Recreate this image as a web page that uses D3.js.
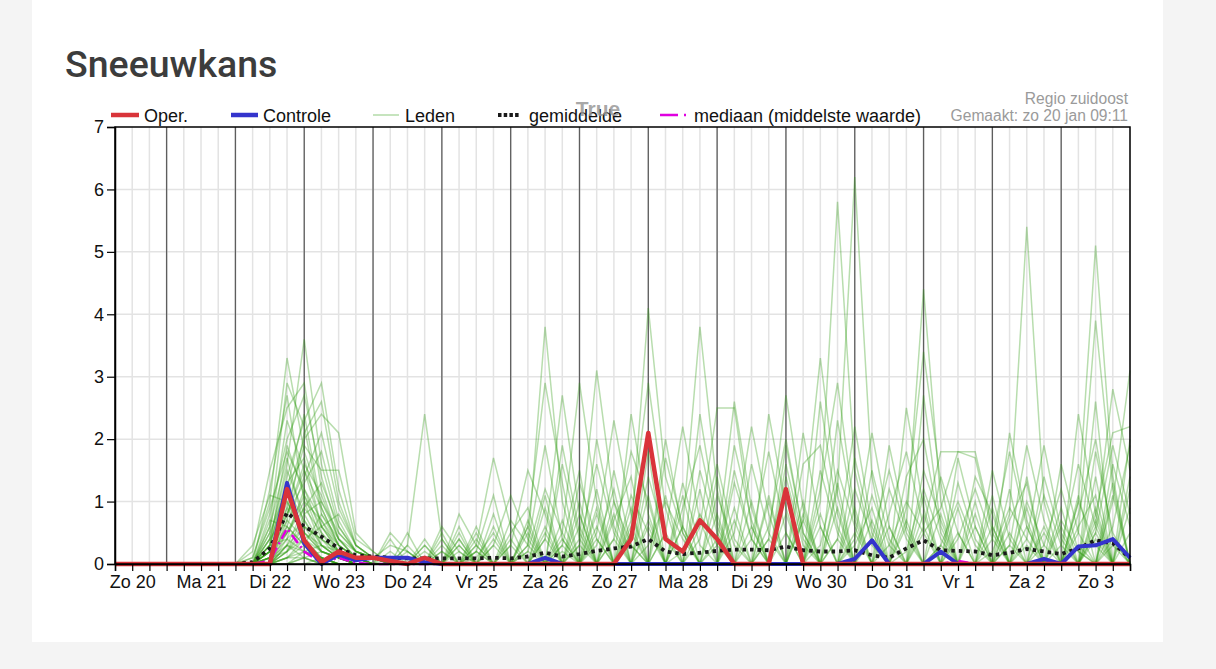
<!DOCTYPE html>
<html>
<head>
<meta charset="utf-8">
<script src="https://cdn.jsdelivr.net/npm/d3@7"></script>
<style>
  html, body { margin: 0; padding: 0; background: #f4f4f4; }
  svg { display: block; }
</style>
</head>
<body>
<div id="chart"></div>
<script>
// time axis: 6-hourly steps from zo 20 jan 06:00 up to ma 4 feb 00:00
const startTime = Date.UTC(2019, 0, 20, 6);
const endTime = Date.UTC(2019, 1, 4, 0);
const stepHours = 6;
const dayLabels = ["Zo 20", "Ma 21", "Di 22", "Wo 23", "Do 24", "Vr 25", "Za 26",
                   "Zo 27", "Ma 28", "Di 29", "Wo 30", "Do 31", "Vr 1", "Za 2", "Zo 3"];
const yTicks = [0, 1, 2, 3, 4, 5, 6, 7];

const oper = [0,0,0,0,0,0,0,0, 0,0,1.2,.38, .03,.2,.1,.1, .05,0,.1,0, 0,0,0,0, 0,0,0,0,
              0,0,.4,2.1, .4,.2,.7,.4, 0,0,0,1.2, 0,0,0,0, 0,0,0,0, 0,0,0,0, 0,0,0,0, 0,0,0,0];
const controle = [0,0,0,0,0,0,0,0, 0,0,1.3,.33, 0,.15,.06,.1, .1,.1,.03,0, 0,0,0,0, 0,.1,0,0,
                  0,0,0,0, 0,0,0,0, 0,0,0,0, 0,0,0,.08, .38,0,0,0, .2,0,0,0, 0,0,.08,0, .28,.3,.4,.1];
const gemiddelde = [0,0,0,0,0,0,0,0, .03,.25,.82,.6, .44,.25,.14,.12, .1,.09,.09,.09, .09,.09,.1,.09, .12,.18,.12,.16,
                    .21,.25,.28,.4, .2,.16,.18,.21, .23,.23,.22,.28, .22,.2,.2,.22, .14,.1,.25,.38, .22,.21,.2,.14, .18,.24,.2,.16, .25,.38,.33,.1];
const mediaan = [0,0,0,0,0,0,0,0, 0,.05,.57,.2, .02,.1,.02,0, 0,0,0,0, 0,0,0,0, 0,0,0,0,
                 0,0,0,0, 0,0,0,0, 0,0,0,0, 0,0,0,0, 0,0,0,0, 0,.05,0,0, 0,0,0,0, 0,0,0,0];

// 50 ensemble members ("Leden")
const leden = [
  [0,0,0,0,0,0,0,0, .1,1,3.3,1.8, 1,.4,.2,.1, 0,0,.3,0, 0,0,0,0, .2,1.2,.5,0, 0,0,0,0, 0,.2,.8,.3, 0,0,0,0, 0,.3,1.5,.6, 0,0,0,0, 0,0,0,0, .3,1.9,.7,0, 0,0,0,0],
  [0,0,0,0,0,0,0,0, 0,.6,2.9,2.2, .8,.3,.1,.1, 0,0,0,0, 0,.1,.5,0, 0,0,0,.4, 3.1,1,.3,0, 0,0,0,0, 0,0,0,0, 0,.8,0,0, 0,0,.2,1.2, .4,0,0,0, 0,0,0,0, .5,3.9,1.2,0],
  [0,0,0,0,0,0,0,0, 0,.4,1.6,3.6, 1.6,.6,.2,.1, .3,.2,0,0, 0,0,0,0, .3,3.8,1,0, 0,0,0,.6, 0,0,0,0, 0,0,.4,2.7, .9,0,0,0, 0,0,0,0, 0,0,.6,0, 0,0,0,0, 0,.6,2.8,1.5],
  [0,0,0,0,0,0,0,0, .2,1.5,2.5,2.9, 1.2,.4,.1,0, 0,0,0,0, .8,.3,0,0, 0,0,.3,1.5, 0,0,.5,4.1, 1.4,.5,0,0, 0,0,0,0, 0,0,.4,2.2, .6,0,0,0, 0,0,0,0, 0,0,.3,1.2, .2,0,0,0],
  [0,0,0,0,0,0,0,0, 0,.3,1.4,2.3, 2.9,1.2,.3,.1, 0,0,0,.5, 0,0,0,0, 0,.4,2.7,.8, 0,0,0,0, 0,0,0,.3, 2.6,.9,0,0, 0,0,0,0, 0,0,.6,4.4, 1,0,0,0, 0,0,0,0, 0,0,1,3.1],
  [0,0,0,0,0,0,0,0, 0,.2,1.1,2, 2.4,2.1,.5,.2, 0,0,0,0, 0,.3,1.7,.6, 0,0,0,0, .5,2.3,.8,0, 0,0,0,0, 0,0,0,0, .7,3.3,1.1,0, 0,0,0,0, 0,0,0,.2, .9,.4,0,0, 0,0,0,0],
  [0,0,0,0,0,0,0,0, 0,.5,2.3,1.5, .6,.2,.1,.1, 0,.3,2.4,.4, 0,0,0,0, 0,.5,0,0, 0,0,0,0, 0,.6,3.8,1.2, 0,0,0,0, 0,0,0,0, 0,.3,1,.5, 0,0,0,0, 0,0,0,0, .8,2,.4,0],
  [0,0,0,0,0,0,0,0, 0,.8,2,2.7, 1.4,.5,.2,.1, 0,0,0,0, 0,0,.3,1.1, .4,0,0,0, 0,0,.7,2.9, .9,0,0,0, 0,0,0,0, 0,1,5.8,1.5, .3,0,0,0, 0,0,0,0, 0,.6,0,0, 0,0,0,0],
  [0,0,0,0,0,0,0,0, .1,.9,1.8,1.2, .5,.2,.1,0, 0,0,0,0, 0,.5,0,0, .6,2.9,1.3,0, 0,0,0,0, 0,0,0,0, 0,0,.6,2, .5,0,0,0, 0,0,0,.5, .9,1.8,1.8,.6, 0,0,0,0, 0,.7,0,0],
  [0,0,0,0,0,0,0,0, 0,.2,.9,1.9, 1.5,1.5,.4,.2, 0,0,0,0, .4,0,0,0, 0,0,.5,2.9, 1,0,0,0, 0,0,.6,2.5, 2.5,.6,0,0, 0,0,1.2,6.2, 1.4,0,0,0, 0,0,0,0, 0,.4,1.9,.5, 0,0,0,0],
  [0,0,0,0,0,0,0,0, 0,1.2,2.7,1, .3,.1,0,0, .4,0,0,0, 0,0,0,0, .6,0,0,0, .3,1.2,0,0, .5,2.2,.7,0, 0,0,0,0, 0,0,0,.4, 2.1,.6,0,0, 0,0,0,0, .8,5.4,1,0, 0,0,0,0],
  [0,0,0,0,0,0,0,0, 0,.1,.6,1.4, 2.1,.9,.3,.1, 0,0,0,0, 0,.2,1.1,0, 0,0,0,0, .9,0,0,0, 0,0,0,0, .5,2.2,.8,0, 0,0,0,0, 0,0,.9,3.4, 1.3,0,0,0, 0,0,0,0, 1,5.1,1.4,0],
  [0,0,0,0,0,0,0,0, 0,.4,1.5,.8, .3,.1,0,0, 0,.3,0,0, 0,0,0,0, 0,0,.7,0, 0,.4,1.8,1, 0,0,0,0, 0,0,0,1.2, 0,0,0,0, .4,1.5,.5,0, 0,0,0,0, 0,0,0,0, 0,.8,2.1,2.2],
  [0,0,0,0,0,0,0,0, 0,.3,1.2,2.4, .9,.3,.1,0, 0,0,0,.6, .2,0,0,0, 0,0,0,1.3, .4,0,0,.3, 1,.4,0,0, 0,0,0,0, 1.6,1.9,.6,0, 0,0,0,0, 0,.4,1.2,.4, 0,0,0,0, 0,0,0,0],
  [0,0,0,0,0,0,0,0, 0,0,.5,1.1, .6,.8,.3,.1, 0,0,0,0, .3,0,0,.3, 1.5,.8,0,0, 0,0,0,0, 0,0,.4,1.6, .4,0,0,0, 0,0,0,0, 0,0,1.4,2, .5,0,0,0, 0,0,0,.3, 1.6,.6,0,0],
  [0,0,0,0,0,0,0,0, 0,.6,1.7,.6, .2,.1,0,0, 0,0,0,0, 0,.4,0,0, 0,0,0,0, 0,.7,1.4,0, 0,0,0,0, 0,.4,1.8,.5, 0,0,0,0, 0,0,0,0, .3,1,.3,0, 0,0,0,0, 0,.5,1.9,.8],
  [0,0,0,0,0,0,0,0, 0,.1,.8,1.6, 1.1,.4,.1,0, 0,0,.2,0, 0,0,0,0, 0,0,0,.3, 1.6,.5,0,0, 0,0,1.5,.5, 0,0,0,0, 0,0,0,.3, .9,0,0,0, 0,0,0,.4, 1.8,.6,0,0, 0,0,0,0],
  [0,0,0,0,0,0,0,0, 0,0,.3,.9, 1.3,.6,.2,.1, 0,0,0,0, 0,0,0,.5, .9,0,0,0, 0,0,0,1.4, .4,0,0,0, 0,0,0,0, 0,1.2,2.9,.8, 0,0,0,0, 0,0,0,1.1, 0,0,0,.9, 0,0,0,0],
  [0,0,0,0,0,0,0,0, .3,1.1,1,.5, .2,.1,0,0, .2,0,0,0, 0,0,0,0, 0,0,1.6,.4, 0,0,0,0, 0,0,0,0, 1.3,.4,0,0, 0,0,0,0, 0,.8,1.8,.6, 0,0,0,0, 0,0,.5,0, 1.1,0,0,0],
  [0,0,0,0,0,0,0,0, 0,.2,.7,.4, .1,0,0,0, 0,0,0,0, .5,0,0,0, 0,0,0,0, .6,0,0,0, 0,1.3,.3,0, 0,0,0,0, .7,0,0,0, 0,0,0,0, 1.4,.5,0,0, 0,0,0,0, 0,0,0,1.2],
  [0,0,0,0,0,0,0,0, 0,0,.4,1.2, .7,.3,.1,0, 0,0,0,0, 0,0,0,0, .3,1.9,.4,0, 0,0,.9,0, 0,0,0,0, 0,0,0,1.4, .3,0,0,0, 0,0,0,1.5, .7,0,0,0, 0,0,0,0, 0,1.4,0,0],
  [0,0,0,0,0,0,0,0, 0,.3,1.3,1.7, .6,.2,.1,0, 0,0,0,.3, 0,0,.6,0, 0,0,0,0, 0,1.5,.3,0, 0,0,0,1.1, .3,0,0,0, 0,0,0,1.7, .5,0,0,0, 0,0,0,0, .7,1.3,0,0, 0,0,0,0],
  [0,0,0,0,0,0,0,0, 0,0,.2,.6, .4,.2,.1,0, 0,.5,0,0, 0,0,0,0, 0,0,0,.8, 0,0,0,0, 1.7,.6,0,0, 0,0,1.1,0, 0,0,0,0, 0,0,0,0, 0,1.7,.6,0, 0,0,0,0, 0,0,.6,1.9],
  [0,0,0,0,0,0,0,0, 0,.7,.6,.3, .1,0,0,0, 0,0,0,0, 0,.2,0,0, 0,0,.4,0, 0,0,0,1.8, 0,0,0,0, 0,1.6,.5,0, 0,0,0,0, 1.1,.3,0,0, 0,0,0,0, 0,0,0,1.6, .5,0,0,0],
  [0,0,0,0,0,0,0,0, 0,0,.1,.3, .8,.4,.1,0, 0,0,0,0, 0,0,.8,0, 0,1.1,0,0, 0,0,0,0, 0,.9,1.9,.6, 0,0,0,0, 0,0,.9,0, 0,0,0,0, 0,0,1.4,.8, 0,0,0,0, 0,2.6,0,0],
  [0,0,0,0,0,0,0,0, 0,.2,.9,.5, .2,.1,0,0, 0,0,0,0, .6,0,0,0, 0,0,0,0, 0,.4,0,0, 0,0,0,0, 1.9,.7,0,0, 0,0,0,0, 0,0,2.5,.9, 0,0,0,0, 0,1,.3,0, 0,0,0,0],
  [0,0,0,0,0,0,0,0, 0,0,0,.2, .3,.2,.1,0, 0,0,.4,0, 0,0,0,0, .7,0,0,0, 0,0,1.1,.5, 0,0,0,0, 0,0,0,0, 2.1,.6,0,0, 0,0,0,0, 0,0,0,1.5, .4,0,0,0, 0,0,1.1,0],
  [0,0,0,0,0,0,0,0, 0,.1,.5,.9, .5,.1,0,0, 0,0,0,0, 0,0,0,.4, 0,0,0,0, 2,.6,0,0, 0,0,0,0, 0,0,0,.8, 0,0,0,0, 0,0,0,2.7, .6,0,0,0, 0,0,0,0, 2.4,.8,0,0],
  [0,0,0,0,0,0,0,0, 0,0,.3,.2, .1,0,0,0, 0,0,0,.2, 0,0,0,0, 0,0,0,1, 0,0,0,0, 0,0,2.4,.7, 0,0,0,0, 0,0,0,1.2, .4,0,0,0, 0,0,0,0, 0,1.4,0,0, 0,0,0,.9],
  [0,0,0,0,0,0,0,0, 0,.4,.8,1.3, 1.8,.7,.2,.1, 0,0,0,0, 0,.3,0,0, 0,.6,0,0, 0,0,0,0, 1.1,0,0,0, 0,0,0,0, 0,1.5,.5,0, 0,0,0,.6, 1.8,1.8,1.7,.5, 0,0,0,0, 0,.4,0,0],
  [0,0,0,0,0,0,0,0, 0,0,.2,.5, .3,.1,0,0, .5,.2,0,0, 0,0,0,0, 0,0,0,0, .8,0,0,0, 0,0,0,0, .9,0,0,0, 0,0,0,0, 0,1.2,.4,0, 0,0,0,0, 0,0,1.4,.4, 0,0,0,0],
  [0,0,0,0,0,0,0,0, 0,.1,.4,.7, .2,.1,0,0, 0,0,0,0, 0,0,.3,0, 0,0,1.9,.5, 0,0,0,0, 0,0,0,0, 0,1,0,0, 0,0,2.3,.7, 0,0,0,0, 0,0,0,0, 1.2,0,0,0, 0,0,0,2],
  [0,0,0,0,0,0,0,0, 0,0,0,.1, .2,.1,0,0, 0,0,0,0, .2,0,0,0, 0,0,0,0, 0,0,2.4,.8, 0,0,0,0, 0,0,0,1.6, .4,0,0,0, 0,0,0,0, 0,.9,0,0, 0,0,0,0, 1,.3,0,0],
  [0,0,0,0,0,0,0,0, 0,.2,.6,.3, .1,0,0,0, 0,0,0,0, 0,0,0,.7, .3,0,0,0, 0,0,0,0, 0,1.1,0,0, 0,0,0,0, 0,2.6,.8,0, 0,0,0,0, 0,0,.8,0, 0,0,0,0, 0,0,1.6,.6],
  [0,0,0,0,0,0,0,0, 0,0,.1,.4, .6,.3,.1,0, 0,0,.3,0, 0,0,0,0, 0,.9,0,0, 0,0,0,0, 0,0,0,.8, 0,0,0,0, 0,0,0,0, 1.5,.4,0,0, 0,0,0,0, 2.1,.7,0,0, 0,0,0,0],
  [0,0,0,0,0,0,0,0, 0,.1,.3,.1, 0,0,0,0, 0,0,0,0, 0,.6,0,0, 0,0,0,0, 0,1,0,0, 0,0,0,0, 0,0,2.4,.9, 0,0,0,0, 0,0,0,1.1, 0,0,0,0, 0,0,0,.7, .2,0,0,0],
  [0,0,0,0,0,0,0,0, 0,0,0,0, .1,0,0,0, 0,0,0,.4, 0,0,0,0, 0,0,0,0, .4,0,0,0, 2,.5,0,0, 0,0,0,0, 0,0,1.3,0, 0,0,0,0, 0,0,0,.9, 0,0,0,0, 0,1.8,.5,0],
  [0,0,0,0,0,0,0,0, 0,.3,1.9,1.1, .4,.1,0,0, 0,0,0,0, 0,0,0,0, .5,0,0,0, 0,0,0,1.1, 0,0,0,0, 0,0,0,0, 1,0,0,0, 0,0,.7,0, 0,0,0,0, 0,0,1.1,.3, 0,0,0,0],
  [0,0,0,0,0,0,0,0, 0,0,.2,.8, 1,.5,.2,.1, 0,0,0,0, .4,0,0,0, 0,0,0,.6, 0,0,0,0, 0,0,0,0, 1.5,.4,0,0, 0,0,0,.9, 0,0,0,0, 0,1.3,.4,0, 0,0,0,0, 0,0,1.3,0],
  [0,0,0,0,0,0,0,0, 0,.5,1.2,.7, .3,.1,0,0, 0,.2,0,0, 0,0,0,0, 0,0,.3,0, 0,0,0,0, 0,0,1.2,0, 0,0,0,0, 0,0,0,0, 0,1.9,.6,0, 0,0,0,0, 0,0,0,0, .6,1.1,0,0],
  [0,0,0,0,0,0,0,0, 0,0,.1,.2, .1,0,0,0, 0,0,0,0, 0,0,.4,0, 0,0,0,0, 0,0,.6,0, 0,0,0,0, 0,0,0,1.9, .5,0,0,0, 0,0,0,0, .8,0,0,0, 0,.9,0,0, 0,0,0,0],
  [0,0,0,0,0,0,0,0, 0,.2,.5,1, .7,.2,.1,0, 0,0,0,0, 0,0,0,0, 0,.4,0,0, 0,0,0,0, 0,0,0,1.4, 0,0,0,0, 0,.6,0,0, 0,0,0,0, 0,0,0,0, .5,0,0,0, 0,0,0,1.4],
  [0,0,0,0,0,0,0,0, 0,0,0,.1, 0,0,0,0, 0,0,.1,0, 0,0,0,0, 0,0,0,0, 0,.8,0,0, 0,0,0,0, 0,.6,0,0, 0,0,0,0, .7,0,0,0, 0,0,1,0, 0,0,0,0, 0,0,.4,0],
  [0,0,0,0,0,0,0,0, 0,.1,.2,.4, .2,.1,0,0, 0,0,0,0, 0,.2,0,0, 0,0,0,0, 0,0,0,0, .5,0,0,0, 0,0,1,0, 0,0,0,0, 0,0,0,.8, 0,0,0,0, 0,0,0,.6, 0,0,0,0],
  [0,0,0,0,0,0,0,0, 0,0,.7,2.1, 2.6,1,.3,.1, 0,0,0,0, 0,0,0,.3, 0,0,0,0, 1.2,0,0,0, 0,0,0,0, .7,0,0,0, 0,0,.4,0, 0,0,0,0, 0,0,0,.6, 0,0,0,0, 0,.9,0,0],
  [0,0,0,0,0,0,0,0, 0,.3,.4,.2, .1,0,0,0, 0,0,0,.2, 0,0,0,0, 0,0,0,0, 0,0,0,0, 0,.6,0,0, 0,0,0,0, .8,0,0,0, 0,0,0,0, 0,.5,0,0, 0,0,0,0, .3,0,0,0],
  [0,0,0,0,0,0,0,0, 0,0,.1,.1, 0,0,0,0, 0,0,0,0, 0,0,0,0, .2,0,0,0, 0,0,0,.7, 0,0,0,0, 0,0,0,0, 0,0,0,.5, 0,0,0,0, 0,0,0,0, 0,0,.6,0, 0,0,0,.5],
  [0,0,0,0,0,0,0,0, 0,.1,.8,1.5, .9,.3,.1,0, 0,0,0,0, .3,0,0,0, 0,0,0,0, 0,0,.5,0, 0,0,0,.4, 0,0,0,0, 0,0,0,0, 0,.6,0,0, 0,0,0,0, 0,.3,0,0, 0,0,0,0],
  [0,0,0,0,0,0,0,0, 0,0,.3,.6, .4,.2,0,0, 0,0,0,0, 0,0,0,0, 0,0,.2,0, 0,0,0,0, 0,0,0,0, 0,0,.4,0, 0,0,0,0, 0,0,0,0, .3,0,0,0, 0,0,0,0, 0,.5,0,0],
  [0,0,0,0,0,0,0,0, 0,.2,1,.4, .1,0,0,0, .1,0,0,0, 0,0,0,0, 0,0,0,.3, 0,0,0,0, 0,0,0,0, 0,0,0,.5, 0,0,0,0, 0,0,0,0, 0,0,0,0, .3,0,0,0, 0,0,.3,0]
];

const W = 1216, H = 669;
const plot = { left: 115, right: 1130, top: 127, bottom: 564 };
const axisFont = "'Liberation Sans', Arial, sans-serif";

const svg = d3.select("#chart").append("svg")
    .attr("width", W)
    .attr("height", H);

// page card
svg.append("rect").attr("x", 32).attr("y", -10).attr("width", 1131).attr("height", 652)
    .attr("fill", "#fff");
svg.append("text")
    .attr("x", 65).attr("y", 77)
    .attr("font-family", "Roboto, sans-serif")
    .attr("font-size", 37.5).attr("font-weight", 500)
    .attr("fill", "#3c3c3c")
    .text("Sneeuwkans");

const times = oper.map((d, i) => new Date(startTime + i * stepHours * 3600e3));

const x = d3.scaleUtc()
    .domain([new Date(startTime), new Date(endTime)])
    .range([plot.left, plot.right]);
const y = d3.scaleLinear()
    .domain([0, 7])
    .range([plot.bottom, plot.top]);

// grid
const grid = svg.append("g");
const sixHours = d3.utcHour.every(6).range(new Date(startTime), new Date(endTime + 1));
grid.selectAll("line.v6").data(sixHours).enter().append("line")
    .attr("x1", d => x(d)).attr("x2", d => x(d))
    .attr("y1", plot.top).attr("y2", plot.bottom)
    .attr("stroke", "#e3e3e3").attr("stroke-width", 1.5);
grid.selectAll("line.h").data(yTicks.slice(1, -1)).enter().append("line")
    .attr("x1", plot.left).attr("x2", plot.right)
    .attr("y1", d => y(d)).attr("y2", d => y(d))
    .attr("stroke", "#e3e3e3").attr("stroke-width", 1.5);
const midnights = d3.utcDay.range(new Date(startTime), new Date(endTime));
grid.selectAll("line.day").data(midnights).enter().append("line")
    .attr("x1", d => x(d)).attr("x2", d => x(d))
    .attr("y1", plot.top).attr("y2", plot.bottom)
    .attr("stroke", "#5e5e5e").attr("stroke-width", 1.3);

// series
const line = d3.line()
    .x((d, i) => x(times[i]))
    .y(d => y(d));

svg.append("g").selectAll("path").data(leden).enter().append("path")
    .attr("d", line)
    .attr("fill", "none")
    .attr("stroke", "#2f9a12")
    .attr("stroke-opacity", 0.34)
    .attr("stroke-width", 1.5);

svg.append("path").datum(gemiddelde)
    .attr("d", line).attr("fill", "none")
    .attr("stroke", "#1a1a1a").attr("stroke-width", 3.8)
    .attr("stroke-dasharray", "3.5,4");

svg.append("path").datum(mediaan)
    .attr("d", line).attr("fill", "none")
    .attr("stroke", "#e000e0").attr("stroke-width", 2.6)
    .attr("stroke-dasharray", "10,4,2,4");

svg.append("path").datum(controle)
    .attr("d", line).attr("fill", "none")
    .attr("stroke", "#3434cc").attr("stroke-width", 4)
    .attr("stroke-linejoin", "round");

svg.append("path").datum(oper)
    .attr("d", line).attr("fill", "none")
    .attr("stroke", "#d9343a").attr("stroke-width", 4.5)
    .attr("stroke-linejoin", "round");

// frame
svg.append("rect")
    .attr("x", plot.left).attr("y", plot.top)
    .attr("width", plot.right - plot.left).attr("height", plot.bottom - plot.top)
    .attr("fill", "none").attr("stroke", "#000").attr("stroke-width", 1.5);

// axes
const yAxis = svg.append("g")
    .attr("transform", `translate(${plot.left},0)`)
    .call(d3.axisLeft(y).tickValues(yTicks).tickSize(8).tickPadding(3).tickFormat(d3.format("d")));
const xTicks = svg.append("g")
    .attr("transform", `translate(0,${plot.bottom})`)
    .call(d3.axisBottom(x).tickValues(sixHours).tickSize(7).tickFormat(""));
const noons = dayLabels.map((d, k) => new Date(Date.UTC(2019, 0, 20 + k, 12)));
const xLabels = svg.append("g")
    .attr("transform", `translate(0,${plot.bottom})`)
    .call(d3.axisBottom(x).tickValues(noons).tickSize(0).tickPadding(11)
        .tickFormat((d, i) => dayLabels[i]));
xLabels.select(".domain").remove();
[yAxis, xTicks, xLabels].forEach(g => {
    g.select(".domain").attr("stroke-width", 1.5);
    g.selectAll("line").attr("stroke", "#000").attr("stroke-width", 1.2);
    g.selectAll("text").attr("font-family", axisFont).attr("font-size", 18).attr("fill", "#111");
});

// legend
const legend = svg.append("g").attr("font-family", axisFont).attr("font-size", 18).attr("fill", "#111");
const legendY = 115;
const legendItems = [
    { label: "Oper.", x1: 111, x2: 139, tx: 144, stroke: "#d9343a", w: 4.5 },
    { label: "Controle", x1: 231, x2: 258, tx: 263, stroke: "#3434cc", w: 4.5 },
    { label: "Leden", x1: 373, x2: 399, tx: 405, stroke: "#2f9a12", w: 1.5, op: 0.36 },
    { label: "gemiddelde", x1: 498, x2: 519, tx: 529, stroke: "#1a1a1a", w: 3.8, dash: "3.5,2.2" },
    { label: "mediaan (middelste waarde)", x1: 660, x2: 689, tx: 694, stroke: "#e000e0", w: 2.6, dash: "18,6,2,20" }
];
legendItems.forEach(it => {
    legend.append("line")
        .attr("x1", it.x1).attr("x2", it.x2).attr("y1", legendY).attr("y2", legendY)
        .attr("stroke", it.stroke).attr("stroke-width", it.w)
        .attr("stroke-opacity", it.op || 1)
        .attr("stroke-dasharray", it.dash || null);
    legend.append("text").attr("x", it.tx).attr("y", legendY + 6.5).text(it.label);
});

// stray gray "True" label that sits over the legend in the original
svg.append("text")
    .attr("x", 598).attr("y", 116)
    .attr("text-anchor", "middle")
    .attr("font-family", axisFont).attr("font-size", 21).attr("font-weight", "bold")
    .attr("fill", "#999").attr("fill-opacity", 0.85)
    .text("True");

const info = svg.append("g")
    .attr("font-family", axisFont).attr("font-size", 15.6)
    .attr("fill", "#9a9a9a").attr("text-anchor", "end");
info.append("text").attr("x", 1128).attr("y", 104).text("Regio zuidoost");
info.append("text").attr("x", 1128).attr("y", 121).text("Gemaakt: zo 20 jan 09:11");
</script>
</body>
</html>
